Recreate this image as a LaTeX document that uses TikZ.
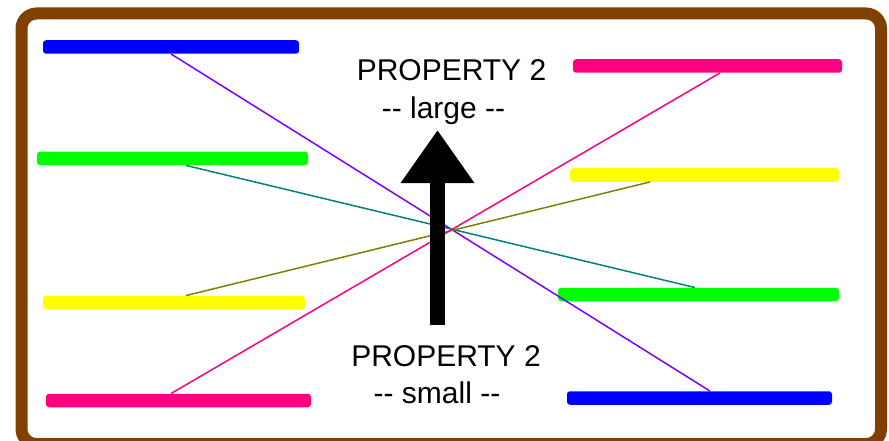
\documentclass[tikz,border=0pt]{standalone}
\usepackage{fontspec}
\setmainfont{Liberation Sans}
\usepackage{tikz}
\usetikzlibrary{arrows.meta}
\definecolor{frame}{HTML}{804000}
\definecolor{barblue}{HTML}{0000FF}
\definecolor{bargreen}{HTML}{00FF00}
\definecolor{baryellow}{HTML}{FFFF00}
\definecolor{barpink}{HTML}{FF0080}
\definecolor{linkviolet}{HTML}{8000FF}
\definecolor{linkteal}{HTML}{008080}
\definecolor{linkolive}{HTML}{808000}
\newcommand{\dd}{-\kern0pt-}

\begin{document}
\begin{tikzpicture}[x=1pt, y=-1pt,
  bar/.style={fill=#1, draw=none, minimum height=13.5pt, inner sep=0pt, rounded corners=3pt},
  link/.style={draw=#1, line width=1.5pt},
  lbl/.style={font=\fontsize{30}{36}\selectfont, anchor=base, inner sep=0pt}]
  \useasboundingbox (0,0) rectangle (889,441);

  % --- Frame ---
  \draw[frame, line width=12pt, rounded corners=15pt] (21.5,13.5) rectangle (881,444);

  % --- Left column ---
  \node[bar=barblue,   minimum width=256pt] (bluel)   at (171,47)    {};
  \node[bar=bargreen,  minimum width=271pt] (greenl)  at (172.5,158.5) {};
  \node[bar=baryellow, minimum width=262pt] (yellowl) at (174,302.5) {};
  \node[bar=barpink,   minimum width=265pt] (pinkl)   at (178.5,400.5) {};

  % --- Right column (order reversed) ---
  \node[bar=barpink,   minimum width=269pt] (pinkr)   at (707.5,66)  {};
  \node[bar=baryellow, minimum width=269pt] (yellowr) at (704.5,175) {};
  \node[bar=bargreen,  minimum width=281pt] (greenr)  at (698.5,294.5) {};
  \node[bar=barblue,   minimum width=265pt] (bluer)   at (699.5,398) {};

  % --- Crossing links ---
  \draw[link=linkviolet] (bluel.south) -- ([xshift=10.5pt]bluer.north);
  \draw[link=linkteal] ([xshift=13.5pt]greenl.south) -- ([xshift=-3.5pt]greenr.north);
  \draw[link=linkolive] ([xshift=12pt]yellowl.north) -- ([xshift=-54.5pt]yellowr.south);
  \draw[link=barpink] ([xshift=-7.5pt]pinkl.north) -- ([xshift=12.5pt]pinkr.south);

  % --- Labels ---
  \node[lbl] (proptop) at (451.5,81) {PROPERTY 2};
  \node[lbl] (large)   at (443.5,119) {\dd{} large \dd};
  \node[lbl] (propbot) at (446,366) {PROPERTY 2};
  \node[lbl] (small)   at (437,403) {\dd{} small \dd};

  % Arrow
  \coordinate (tail) at (437.5,325);
  \coordinate (tip) at (437.5,130);
  \draw[-{Triangle[length=53pt,width=70pt]}, line width=15pt] (tail) -- (tip);
\end{tikzpicture}
\end{document}
